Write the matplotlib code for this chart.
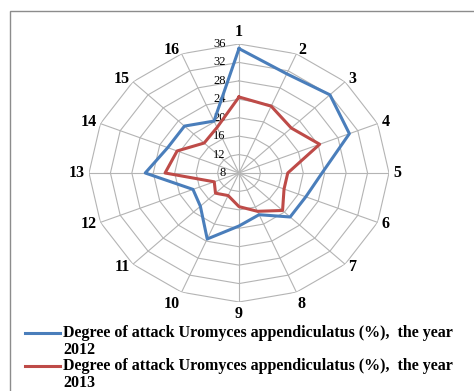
import numpy as np
import matplotlib
matplotlib.use("Agg")
from matplotlib import pyplot as plt
from matplotlib.lines import Line2D
from matplotlib.patches import Rectangle

categories = [str(i) for i in range(1, 17)]
attack_2012 = [35, 31.3, 32, 30.3, 23.5, 21.5, 21.5, 17.8, 19.5, 23.5, 18.2, 17.3, 25.5, 22.4, 22.4, 20.2]
attack_2013 = [24.5, 23.7, 21.8, 24.3, 17.1, 17.1, 19.5, 17, 15.3, 13.3, 14.2, 13, 21.8, 20.5, 17.2, 18.7]
ring_values = [8, 12, 16, 20, 24, 28, 32, 36]
series_labels = ['Degree of attack Uromyces appendiculatus (%),  the year\n2012',
                 'Degree of attack Uromyces appendiculatus (%),  the year\n2013']
colors = ['#4A7EBB', '#BE4B48']

W, H = 474, 391
fig = plt.figure(figsize=(W / 100, H / 100), dpi=100)

# outer frame (only left/top visible in the crop)
fig.add_artist(Rectangle((10 / W, -0.1), 1.2, (H - 11) / H + 0.1, transform=fig.transFigure,
                         fill=False, edgecolor='#8c8c8c', linewidth=1.0))

cx, cy, rx, ry = 239, 173, 150, 129
ax = fig.add_axes([(cx - rx) / W, (H - cy - ry) / H, 2 * rx / W, 2 * ry / H], projection='polar')
ax.set_aspect('auto')
ax.set_theta_zero_location('N')
ax.set_theta_direction(-1)

theta = np.linspace(0, 2 * np.pi, len(categories), endpoint=False)
theta_c = np.append(theta, theta[0])

ax.set_ylim(ring_values[0], ring_values[-1])
ax.set_yticks(ring_values)
ax.set_yticklabels([])
ax.yaxis.grid(False)
ax.spines['polar'].set_visible(False)
ax.set_xticks(theta)
ax.set_xticklabels([])
ax.tick_params(axis='x', length=0)
ax.xaxis.grid(True, color='#b4b4b4', linewidth=0.8)

for r in ring_values[1:]:
    ax.plot(theta_c, [r] * len(theta_c), color='#b4b4b4', linewidth=0.8, zorder=1)

# category labels just outside the outer polygon, Excel-like
gap = 3
for t, cat in zip(theta, categories):
    s, c = np.sin(t), np.cos(t)
    ha = 'left' if s > 0.1 else ('right' if s < -0.1 else 'center')
    va = 'bottom' if c > 0.95 else ('top' if c < -0.9 else 'center')
    ax.annotate(cat, xy=(t, ring_values[-1]), xytext=(gap * s, gap * c), textcoords='offset points',
                ha=ha, va=va, fontfamily='Liberation Serif', fontweight='bold', fontsize=11.5,
                annotation_clip=False)

for r in ring_values:
    ax.annotate(str(r), xy=(0, r), xytext=(-9.5, 0), textcoords='offset points',
                ha='right', va='center', fontfamily='Liberation Serif', fontsize=9)

for vals, c in zip([attack_2012, attack_2013], colors):
    ax.plot(theta_c, vals + vals[:1], color=c, linewidth=2.2, zorder=3)

# legend drawn Excel-style: handle next to first text line
for i, (lab, c) in enumerate(zip(series_labels, colors)):
    y = (H - 333 - i * 33) / H
    fig.add_artist(Line2D([25 / W, 60 / W], [y, y], transform=fig.transFigure, color=c, linewidth=2.2))
    fig.text(63 / W, y + 8 / H, lab, ha='left', va='top', fontfamily='Liberation Serif',
             fontweight='bold', fontsize=11.5, linespacing=1.05)

plt.savefig('out.png', dpi=100)
